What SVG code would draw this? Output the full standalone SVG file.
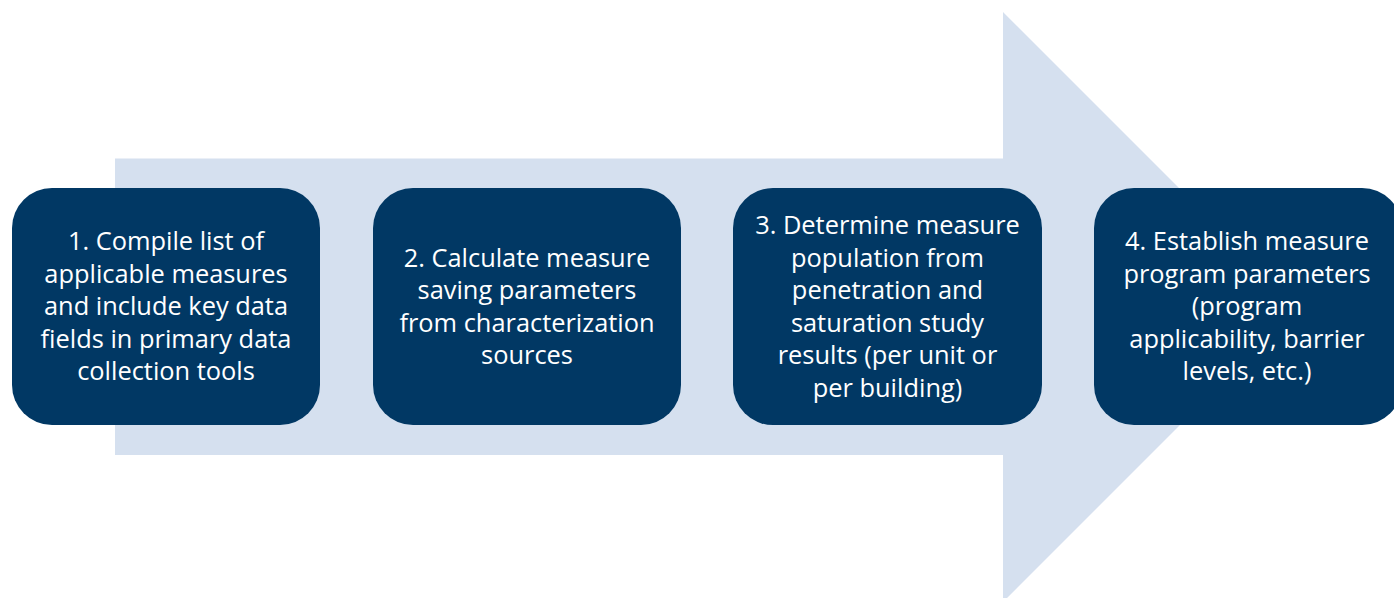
<svg xmlns="http://www.w3.org/2000/svg" width="1394" height="598" viewBox="0 0 1394 598">
<style>
.box{fill:#013864;}
.t{font-family:"Open Sans","Liberation Sans",sans-serif;font-size:25.4px;fill:#ffffff;text-anchor:middle;}
</style>
<rect width="1394" height="598" fill="#ffffff"/>
<g id="arrow">
<polygon points="115,158.5 1003,158.5 1003,12 1298,307 1003,602 1003,455 115,455" fill="#d5e0ef"/>
</g>
<g id="connectors"></g>
<g id="step1">
<rect class="box" x="12" y="188" width="308" height="237" rx="40" ry="40"/>
<text class="t" x="166" y="250">1. Compile list of</text>
<text class="t" x="166" y="282.5">applicable measures</text>
<text class="t" x="166" y="315">and include key data</text>
<text class="t" x="166" y="347.5">fields in primary data</text>
<text class="t" x="166" y="380">collection tools</text>
</g>
<g id="step2">
<rect class="box" x="373" y="188" width="308" height="237" rx="40" ry="40"/>
<text class="t" x="527" y="266.5">2. Calculate measure</text>
<text class="t" x="527" y="299">saving parameters</text>
<text class="t" x="527" y="331.5">from characterization</text>
<text class="t" x="527" y="364">sources</text>
</g>
<g id="step3">
<rect class="box" x="733" y="188" width="309" height="237" rx="40" ry="40"/>
<text class="t" x="887.5" y="234">3. Determine measure</text>
<text class="t" x="887.5" y="266.5">population from</text>
<text class="t" x="887.5" y="299">penetration and</text>
<text class="t" x="887.5" y="331.5">saturation study</text>
<text class="t" x="887.5" y="364">results (per unit or</text>
<text class="t" x="887.5" y="396.5">per building)</text>
</g>
<g id="step4">
<rect class="box" x="1094" y="188" width="308" height="237" rx="40" ry="40"/>
<text class="t" x="1247" y="250">4. Establish measure</text>
<text class="t" x="1247" y="282.5">program parameters</text>
<text class="t" x="1247" y="315">(program</text>
<text class="t" x="1247" y="347.5">applicability, barrier</text>
<text class="t" x="1247" y="380">levels, etc.)</text>
</g>
</svg>
